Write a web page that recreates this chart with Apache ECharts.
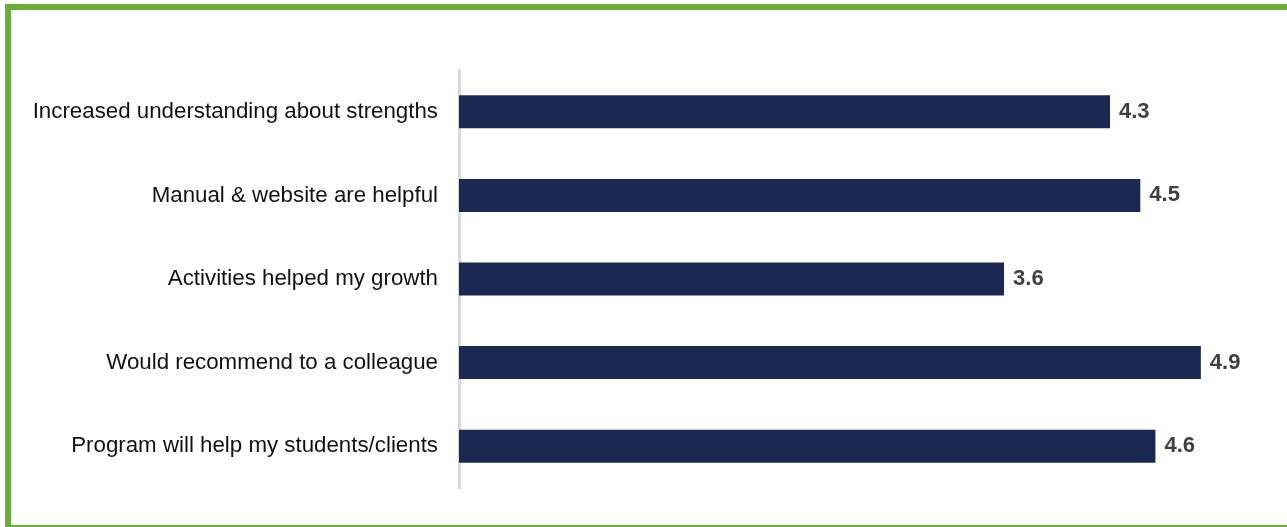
<!DOCTYPE html>
<html>
<head>
<meta charset="utf-8">
<script src="https://cdn.jsdelivr.net/npm/echarts@6/dist/echarts.min.js"></script>
<style>
  html, body { margin: 0; padding: 0; background: #ffffff; }
  #chart { width: 1287px; height: 527px; }
</style>
</head>
<body>
<div id="chart"></div>
<script>
// Survey statements (top to bottom) and their mean ratings
const categories = [
  'Increased understanding about strengths',
  'Manual & website are helpful',
  'Activities helped my growth',
  'Would recommend to a colleague',
  'Program will help my students/clients'
];
const ratings = [4.3, 4.5, 3.6, 4.9, 4.6];

const chart = echarts.init(document.getElementById('chart'), null, { renderer: 'canvas' });

const frameGreen = '#6aad3a';

chart.setOption({
  backgroundColor: '#ffffff',
  animation: false,
  grid: { left: 459, right: 71, top: 70, bottom: 39, containLabel: false },
  xAxis: {
    type: 'value',
    min: 0,
    max: 5,
    show: false
  },
  yAxis: {
    type: 'category',
    inverse: true,
    data: categories,
    axisLine: { show: true, lineStyle: { color: '#d9d9d9', width: 3 } },
    axisTick: { show: false },
    splitLine: { show: false },
    axisLabel: {
      margin: 21,
      fontFamily: 'Liberation Sans, Arial, sans-serif',
      fontSize: 22.3,
      color: '#111111',
      padding: [3, 0, 0, 0]
    }
  },
  series: [{
    type: 'bar',
    data: ratings,
    barCategoryGap: '60.5%',
    itemStyle: { color: '#1b2852' },
    label: {
      show: true,
      position: 'right',
      distance: 9,
      formatter: p => p.value.toFixed(1),
      fontFamily: 'Liberation Sans, Arial, sans-serif',
      fontWeight: 'bold',
      fontSize: 22,
      color: '#404040',
      padding: [2, 0, 0, 0]
    }
  }],
  graphic: [
    // green frame: thick top and left edges, thin bottom edge
    { type: 'rect', shape: { x: 5, y: 4, width: 1282, height: 6 }, style: { fill: frameGreen }, silent: true },
    { type: 'rect', shape: { x: 5, y: 4, width: 6, height: 523 }, style: { fill: frameGreen }, silent: true },
    { type: 'rect', shape: { x: 5, y: 525, width: 1282, height: 2 }, style: { fill: frameGreen }, silent: true }
  ]
});
</script>
</body>
</html>
